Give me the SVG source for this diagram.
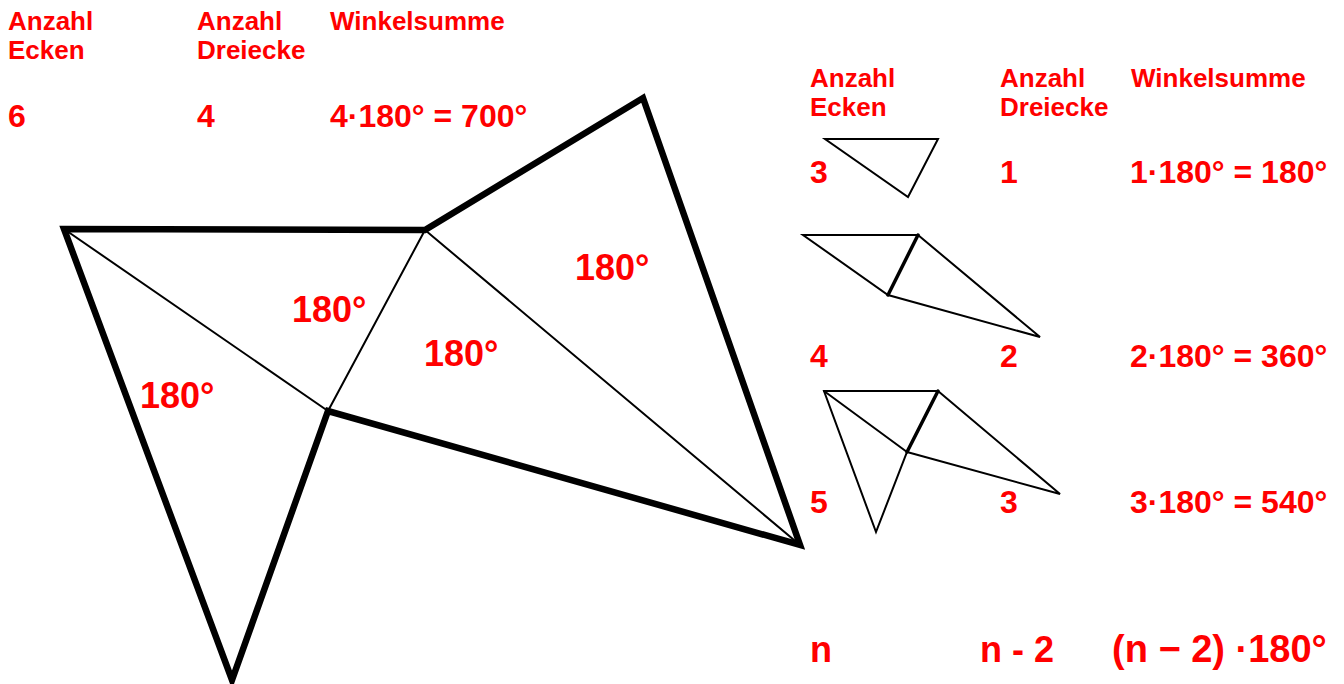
<svg xmlns="http://www.w3.org/2000/svg" width="1344" height="684" viewBox="0 0 1344 684">
<style>
.t{font-family:"Liberation Sans",Arial,sans-serif;font-weight:bold;fill:#ff0000}
.h{font-size:26px}
.v{font-size:32px}
.a{font-size:36px}
.n{font-size:36px}
.f{font-size:38px}
.thick{stroke:#000;stroke-width:6.5;fill:none;stroke-linejoin:miter;stroke-linecap:round}
.thin{stroke:#000;stroke-width:2;fill:none;stroke-linecap:round}
.mid{stroke:#000;stroke-width:3.5;fill:none;stroke-linecap:round}
</style>
<rect width="1344" height="684" fill="#fff"/>
<g id="connectors">
<path class="thin" d="M64,229 L328,411 M425,230 L328,411 M425,230 L800,545"/>
<polygon class="thick" points="64,229 425,230 643,98 800,545 328,411 232,680"/>
</g>
<g id="triangle3">
<polygon class="thin" points="825,139 938,139 908,197"/>
</g>
<g id="quad4">
<polygon class="thin" points="803,235 918,235 1040,337 888,295"/>
<line class="mid" x1="918" y1="235" x2="888" y2="295"/>
</g>
<g id="pent5">
<polygon class="thin" points="824,391 938,391 1060,494 907,452 876,532"/>
<line class="thin" x1="824" y1="391" x2="907" y2="452"/>
<line class="mid" x1="938" y1="391" x2="907" y2="452"/>
</g>
<g id="left-table">
<text class="t h" x="8" y="30">Anzahl</text>
<text class="t h" x="8" y="59">Ecken</text>
<text class="t h" x="197" y="30">Anzahl</text>
<text class="t h" x="197" y="59">Dreiecke</text>
<text class="t h" x="330" y="30">Winkelsumme</text>
<text class="t v" x="8" y="127">6</text>
<text class="t v" x="197" y="127">4</text>
<text class="t v" x="330" y="127">4·180° = 700°</text>
</g>
<g id="angle-labels">
<text class="t a" x="575" y="280">180°</text>
<text class="t a" x="292" y="322">180°</text>
<text class="t a" x="424" y="366">180°</text>
<text class="t a" x="140" y="408">180°</text>
</g>
<g id="right-table">
<text class="t h" x="810" y="87">Anzahl</text>
<text class="t h" x="810" y="116">Ecken</text>
<text class="t h" x="1000" y="87">Anzahl</text>
<text class="t h" x="1000" y="116">Dreiecke</text>
<text class="t h" x="1131" y="87">Winkelsumme</text>
<text class="t v" x="810" y="183">3</text>
<text class="t v" x="1000" y="183">1</text>
<text class="t v" x="1130" y="183">1·180° = 180°</text>
<text class="t v" x="810" y="367">4</text>
<text class="t v" x="1000" y="367">2</text>
<text class="t v" x="1130" y="367">2·180° = 360°</text>
<text class="t v" x="810" y="513">5</text>
<text class="t v" x="1000" y="513">3</text>
<text class="t v" x="1130" y="513">3·180° = 540°</text>
<text class="t n" x="810" y="662">n</text>
<text class="t n" x="980" y="662">n - 2</text>
<text class="t f" x="1112" y="662">(n − 2) ·180°</text>
</g>
</svg>
